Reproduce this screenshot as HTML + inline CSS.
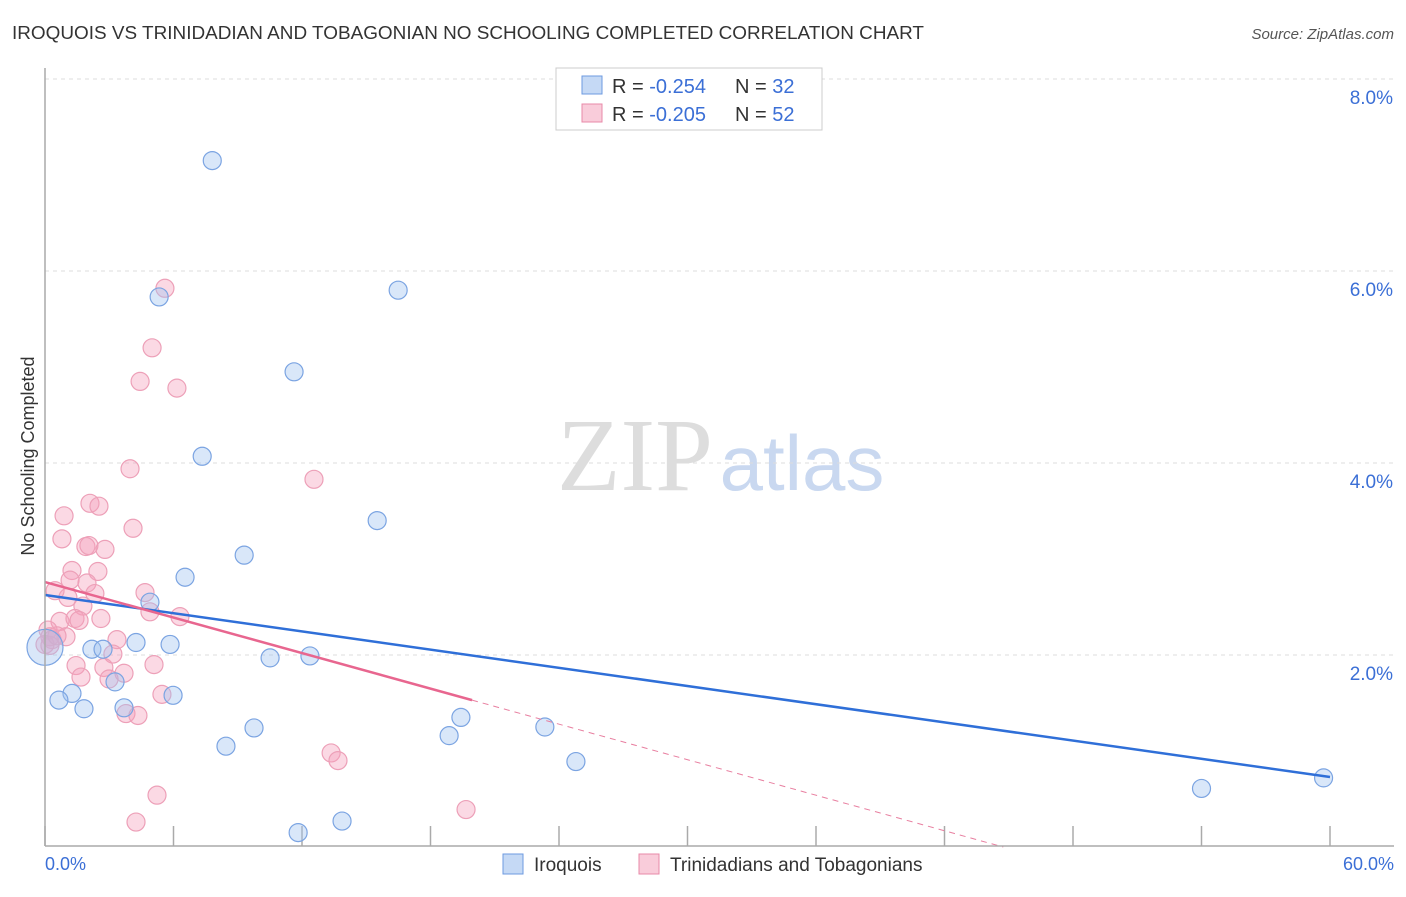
<!DOCTYPE html>
<html><head><meta charset="utf-8"><style>
body{margin:0;background:#fff;font-family:"Liberation Sans",sans-serif;}
</style></head><body>
<svg id="chart" width="1406" height="892" xmlns="http://www.w3.org/2000/svg" style="font-family:'Liberation Sans',sans-serif">
<text x="12" y="39" font-size="18" fill="#333" textLength="912" lengthAdjust="spacingAndGlyphs">IROQUOIS VS TRINIDADIAN AND TOBAGONIAN NO SCHOOLING COMPLETED CORRELATION CHART</text>
<text x="1394" y="39" font-size="15" fill="#555" font-style="italic" text-anchor="end">Source: ZipAtlas.com</text>
<text x="34" y="456" font-size="18" fill="#333" text-anchor="middle" transform="rotate(-90 34 456)">No Schooling Completed</text>
<g><text x="635" y="490" font-size="104" fill="#ddd" font-family="Liberation Serif,serif" text-anchor="middle">ZIP</text><text x="802" y="490" font-size="78" fill="#c9d8f0" text-anchor="middle">atlas</text></g>
<g id="grid"></g><g id="marks"></g><g id="lines"></g>
<line x1="45" y1="68" x2="45" y2="846" stroke="#aaa" stroke-width="1.5"/>
<line x1="45" y1="846" x2="1394" y2="846" stroke="#aaa" stroke-width="1.5"/>
<text x="45" y="870" font-size="18" fill="#3b6fd6">0.0%</text>
<text x="1394" y="870" font-size="18" fill="#3b6fd6" text-anchor="end">60.0%</text>
<g>
<rect x="556" y="68" width="266" height="62" fill="#fff" stroke="#ccc"/>
<rect x="582" y="76" width="20" height="18" fill="#c5d9f5" stroke="#6d9ae0"/>
<rect x="582" y="104" width="20" height="18" fill="#f9ccda" stroke="#e88aa8"/>
<text x="612" y="93" font-size="20" fill="#333">R = <tspan fill="#3b6fd6">-0.254</tspan></text>
<text x="735" y="93" font-size="20" fill="#333">N = <tspan fill="#3b6fd6">32</tspan></text>
<text x="612" y="121" font-size="20" fill="#333">R = <tspan fill="#3b6fd6">-0.205</tspan></text>
<text x="735" y="121" font-size="20" fill="#333">N = <tspan fill="#3b6fd6">52</tspan></text>
</g>
<g>
<rect x="503" y="854" width="20" height="20" fill="#c5d9f5" stroke="#6d9ae0"/>
<text x="534" y="871" font-size="19" fill="#333">Iroquois</text>
<rect x="639" y="854" width="20" height="20" fill="#f9ccda" stroke="#e88aa8"/>
<text x="670" y="871" font-size="19" fill="#333">Trinidadians and Tobagonians</text>
</g>
</svg>
<script>
const yTicks=[2,4,6,8];
const xTicks=[0,6,12,18,24,30,36,42,48,54,60];
const iroqX=[7.81,5.33,16.49,11.63,7.34,15.51,9.3,6.54,4.9,4.25,5.84,2.19,2.71,10.51,12.37,3.27,1.26,0.65,1.82,3.69,5.98,9.76,8.45,18.87,19.42,23.34,24.79,13.87,11.82,54.0,59.7,0];
const iroqY=[7.15,5.73,5.8,4.95,4.07,3.4,3.04,2.81,2.55,2.13,2.11,2.06,2.06,1.97,1.99,1.72,1.6,1.53,1.44,1.45,1.58,1.24,1.05,1.16,1.35,1.25,0.89,0.27,0.15,0.61,0.72,2.08];
const iroqR=[9,9,9,9,9,9,9,9,9,9,9,9,9,9,9,9,9,9,9,9,9,9,9,9,9,9,9,9,9,9,9,18];
const triX=[5.6,5.0,4.44,6.16,12.56,3.97,2.1,2.52,0.89,4.11,0.79,1.91,2.05,2.8,1.26,2.47,1.17,1.96,0.47,4.67,2.33,1.07,1.77,4.9,6.3,0.7,1.4,2.61,1.59,0.14,0.23,0.98,3.36,0.33,0,3.17,1.45,2.75,5.09,3.69,1.68,2.99,5.46,3.78,4.34,13.36,13.68,5.23,19.66,4.25,0.23,0.56];
const triY=[5.82,5.2,4.85,4.78,3.83,3.94,3.58,3.55,3.45,3.32,3.21,3.13,3.14,3.1,2.88,2.87,2.78,2.75,2.67,2.65,2.64,2.6,2.51,2.45,2.4,2.35,2.38,2.38,2.36,2.26,2.19,2.19,2.16,2.16,2.11,2.01,1.89,1.87,1.9,1.81,1.77,1.75,1.59,1.39,1.37,0.98,0.9,0.54,0.39,0.26,2.1,2.2];
const trendIroq=[2.625,0.729];
const trendTri=[2.76,1.53,19.94];
const X0=45,X1=1330,Y0=847,PPY=96;
const sx=v=>X0+v/60*(X1-X0);
const sy=v=>Y0-v*PPY;
const NS='http://www.w3.org/2000/svg';
const grid=document.getElementById('grid'),marks=document.getElementById('marks'),lines=document.getElementById('lines'),svg=document.getElementById('chart');
function mk(t,a,p){const e=document.createElementNS(NS,t);for(const k in a)e.setAttribute(k,a[k]);p.appendChild(e);return e;}
yTicks.forEach(v=>{
 const l=mk('line',{x1:45,x2:1394,y1:sy(v),y2:sy(v),stroke:'#ddd','stroke-dasharray':'4,4'},grid);
 
 
 const t=mk('text',{x:1393,y:sy(v)+25,'font-size':19,fill:'#3b6fd6','text-anchor':'end'},svg);
 t.textContent=v.toFixed(1)+'%';
 
 
});
xTicks.forEach(v=>{
 const l=mk('line',{x1:sx(v),x2:sx(v),y1:826,y2:846,stroke:'#aaa','stroke-width':1.5},grid);
 
 
});
triX.forEach((x,i)=>{
 const c=mk('circle',{cx:sx(x),cy:sy(triY[i]),r:9,fill:'rgba(244,160,188,0.4)',stroke:'#eda0b8','stroke-width':1.2},marks);
 
 
});
iroqX.forEach((x,i)=>{
 const c=mk('circle',{cx:sx(x),cy:sy(iroqY[i]),r:iroqR[i],fill:'rgba(160,195,240,0.4)',stroke:'#7ba4e2','stroke-width':1.2},marks);
 
 
});
const bl=mk('line',{x1:sx(0),y1:sy(trendIroq[0]),x2:sx(60),y2:sy(trendIroq[1]),stroke:'#2f6fd8','stroke-width':2.5},lines);


const slope=(trendTri[1]-trendTri[0])/trendTri[2];
const xz=-trendTri[0]/slope;
const pd=mk('line',{x1:sx(trendTri[2]),y1:sy(trendTri[1]),x2:sx(xz),y2:sy(0),stroke:'#e87fa0','stroke-width':1,'stroke-dasharray':'6,5'},lines);


const ps=mk('line',{x1:sx(0),y1:sy(trendTri[0]),x2:sx(trendTri[2]),y2:sy(trendTri[1]),stroke:'#e8668f','stroke-width':2.5},lines);


</script>
</body></html>
